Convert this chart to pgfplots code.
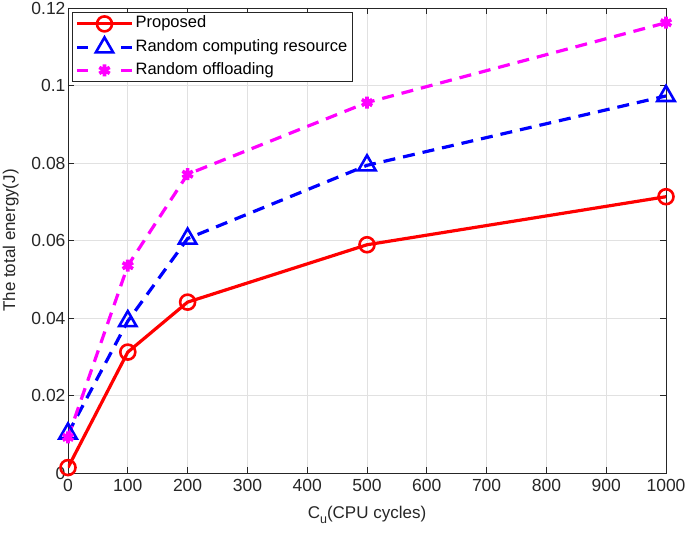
\documentclass[border=0pt]{standalone}
\usepackage{fontspec}
\setmainfont{Liberation Sans}
\usepackage{pgfplots}
\pgfplotsset{compat=1.18}
\definecolor{mred}{RGB}{255,0,0}
\definecolor{mblue}{RGB}{0,0,255}
\definecolor{mmag}{RGB}{255,0,255}
\definecolor{axgray}{RGB}{38,38,38}
\definecolor{gridgray}{RGB}{225,225,225}
\pgfplotsset{
  solidleg/.style={legend image code/.code={\draw[##1] (0pt,0pt) -- (55pt,0pt); \draw[##1] plot coordinates {(27.5pt,0pt)};}},
  dashleg/.style={legend image code/.code={\draw[##1, dash pattern=on 11pt off 33pt] (0pt,0pt) -- (55pt,0pt); \draw[##1] plot coordinates {(27.5pt,0pt)};}},
}
\begin{document}
\begin{tikzpicture}
\begin{axis}[
  scale only axis,
  width=598pt, height=465pt,
  xmin=0, xmax=1000, ymin=0, ymax=0.12,
  xtick={0,100,...,1000},
  xticklabels={0,100,200,300,400,500,600,700,800,900,1000},
  ytick={0,0.02,...,0.12},
  yticklabels={0,0.02,0.04,0.06,0.08,0.1,0.12},
  tick align=inside,
  major tick length=6pt,
  tick style={axgray, line width=0.7pt},
  axis line style={axgray, line width=0.8pt},
  grid=major,
  grid style={gridgray, line width=0.7pt},
  ticklabel style={font=\fontsize{17.5}{20}\selectfont, text=axgray},
  xticklabel style={yshift=-3pt},
  yticklabel style={xshift=1pt},
  /pgf/number format/assume math mode=true,
  scaled y ticks=false,
  xlabel={C\raisebox{-5pt}{\fontsize{12.5}{13}\selectfont u}(CPU cycles)},
  ylabel={The total energy(J)},
  label style={font=\fontsize{17}{19}\selectfont, text=axgray},
  xlabel style={yshift=-7pt},
  ylabel style={yshift=6pt},
  legend style={at={(0,1)}, anchor=north west, xshift=4pt, yshift=-4pt,
    font=\fontsize{16.5}{18}\selectfont,
    draw=axgray, line width=0.8pt, inner xsep=3pt, inner ysep=2pt,
    nodes={inner sep=2pt, text height=11.5pt, text depth=3.5pt}, row sep=4pt},
  legend cell align=left,
]
\addplot[mred, line width=3.2pt, mark=o, mark size=7.5pt, mark options={solid, line width=2.6pt}, solidleg]
  coordinates {(0,0.0014) (100,0.0312) (200,0.0441) (500,0.0589) (1000,0.0713)};
\addlegendentry{Proposed}
\addplot[mblue, line width=3.2pt, dash pattern=on 12pt off 8pt, mark=triangle, mark size=10pt, mark options={solid, line width=2.6pt}, dashleg]
  coordinates {(0,0.0102) (100,0.0392) (200,0.0605) (500,0.0794) (1000,0.0973)};
\addlegendentry{Random computing resource}
\addplot[mmag, line width=3.2pt, dash pattern=on 12pt off 8pt, mark=asterisk, mark size=6pt, mark options={solid, line width=3.6pt}, dashleg]
  coordinates {(0,0.0092) (100,0.0535) (200,0.0771) (500,0.0956) (1000,0.1162)};
\addlegendentry{Random offloading}
\end{axis}
\pgfresetboundingbox
\path ([shift={(-68pt,-63pt)}]current axis.south west) rectangle ([shift={(19pt,8pt)}]current axis.north east);
\end{tikzpicture}
\end{document}
